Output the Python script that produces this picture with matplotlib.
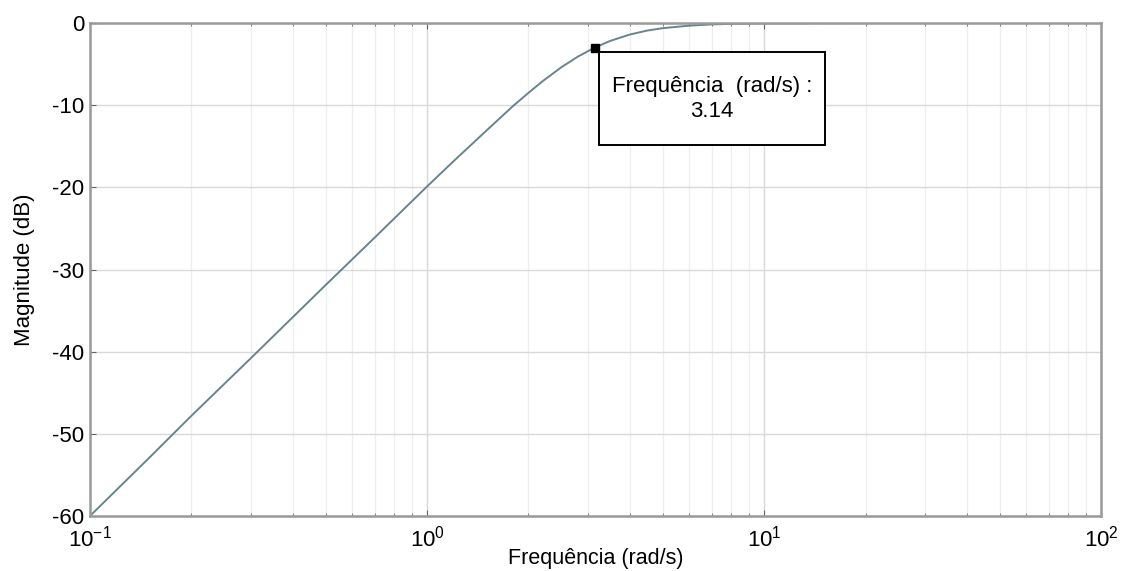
import matplotlib
matplotlib.use('Agg')
import matplotlib.pyplot as plt
from matplotlib.patches import Rectangle
from matplotlib.ticker import LogLocator, NullFormatter

plt.rcParams['font.family'] = ['Liberation Sans', 'DejaVu Sans']
plt.rcParams['mathtext.fontset'] = 'custom'
plt.rcParams['mathtext.rm'] = 'Liberation Sans'
plt.rcParams['mathtext.it'] = 'Liberation Sans'
plt.rcParams['axes.unicode_minus'] = False

# frequencia (rad/s) e magnitude (dB)
freq = [0.1, 0.15, 0.2, 0.3, 0.5, 0.7, 1.0, 1.2, 1.5, 1.8, 2.0, 2.2, 2.5, 2.8,
        3.14, 3.5, 4.0, 4.5, 5.0, 6.0, 7.0, 8.0, 10.0, 20.0, 50.0, 100.0]
mag = [-60.0, -52.9, -47.8, -40.8, -31.9, -26.1, -19.9, -16.8, -13.1, -10.1,
       -8.5, -7.1, -5.4, -4.1, -3.0, -2.17, -1.4, -0.92, -0.63, -0.32, -0.17,
       -0.10, -0.04, 0.0, 0.0, 0.0]
tip_x = 3.14
tip_y = -3.0
y_ticks = [0, -10, -20, -30, -40, -50, -60]

fig = plt.figure(figsize=(11.26, 5.71), dpi=100)
ax = fig.add_axes([0.0799, 0.0963, 0.898, 0.8634])

ax.semilogx(freq, mag, color='#66858f', lw=1.4)
ax.set_xlim(0.1, 100)
ax.set_ylim(-60, 0)
ax.set_yticks(y_ticks)
ax.xaxis.set_minor_locator(LogLocator(base=10, subs=range(2, 10)))
ax.xaxis.set_minor_formatter(NullFormatter())

ax.grid(True, which='major', color='#d9d9d9', lw=1.0)
ax.grid(True, which='minor', axis='x', color='#eeeeee', lw=0.9)
ax.tick_params(which='both', direction='in', top=True, right=False,
               color='#666666', labelsize=16)
ax.tick_params(axis='y', pad=4)
ax.tick_params(axis='x', pad=7)
ax.tick_params(which='major', length=4)
ax.tick_params(which='minor', length=2.5)
for s in ax.spines.values():
    s.set_color('#999999')
    s.set_linewidth(1.8)

ax.set_xlabel('Frequência (rad/s)', fontsize=15.5, va='top')
ax.xaxis.set_label_coords(0.5, -0.064)
ax.set_ylabel('Magnitude (dB)', fontsize=16, labelpad=12)

# data tip
ax.plot([tip_x], [tip_y], 's', color='black', ms=5.5, zorder=5)
ax.add_patch(Rectangle((0.5035, 0.7525), 0.2235, 0.1887, transform=ax.transAxes,
                       fc='white', ec='black', lw=1.4, zorder=6))
ax.text(0.6153, 0.846, 'Frequência  (rad/s) :\n%.2f' % tip_x, transform=ax.transAxes,
        ha='center', va='center', fontsize=16, linespacing=1.25, zorder=7)

fig.savefig('out.png', dpi=100, facecolor='white')
